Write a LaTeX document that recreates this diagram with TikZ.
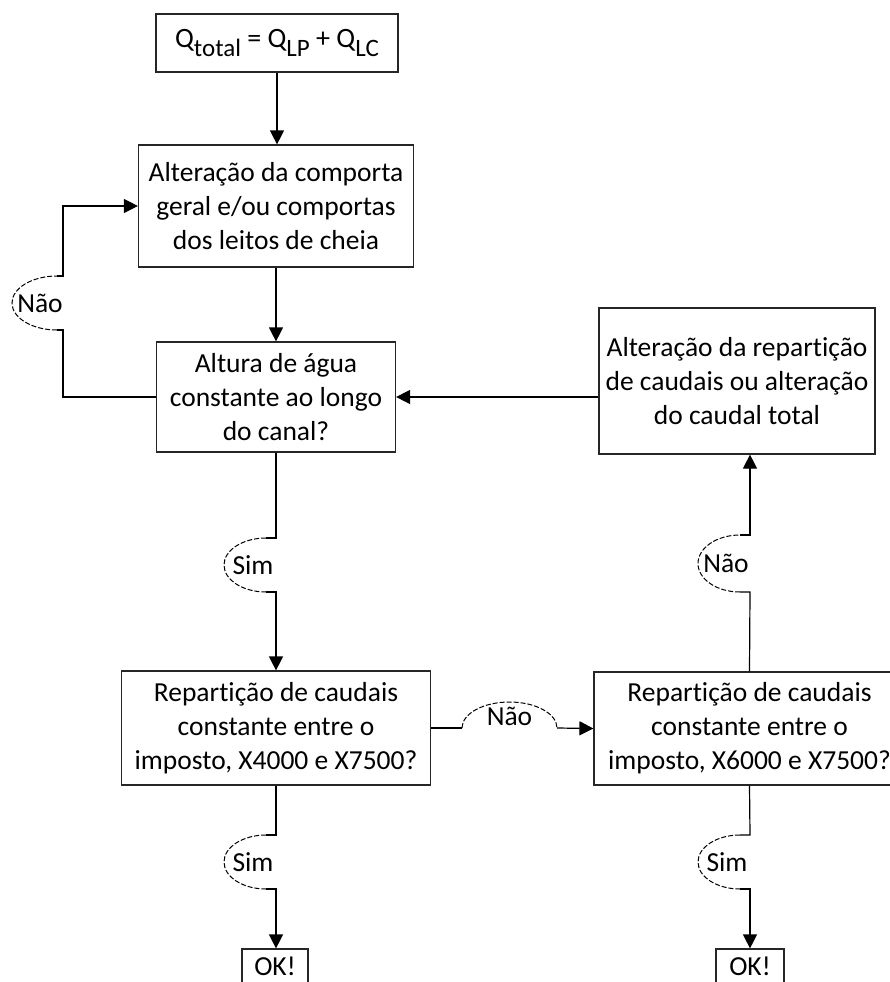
\documentclass[tikz,border=0pt]{standalone}
\usepackage{fontspec}
\setmainfont{Carlito}[Ligatures=NoCommon]
\usetikzlibrary{arrows.meta}
\tikzset{
    box/.style={draw=black!85, line width=1.2pt, align=center, inner sep=0pt,
            font=\fontsize{27.5}{34}\selectfont},
    wire/.style={line width=1.2pt},
    link/.style={line width=1.2pt, -{Triangle[length=14pt,width=14pt]}},
    bump/.style={line width=1pt, dash pattern=on 5pt off 2pt},
    tag/.style={inner sep=0pt, font=\fontsize{27.5}{27.5}\selectfont},
}
\newcommand{\qsub}[1]{\raisebox{-9pt}{\fontsize{25}{25}\selectfont #1}}

\begin{document}
\begin{tikzpicture}[x=1pt,y=-1pt]
        \clip (0,0) rectangle (890,982);
        %boxes of the left column
        \node[box, minimum width=242, minimum height=58, font=\fontsize{28}{34}\selectfont] (qtot) at (277,43)
            {Q\qsub{total} = Q\qsub{LP} + Q\qsub{LC}};
        \node[box, minimum width=275, minimum height=122] (comporta) at (276,206)
            {Alteração da comporta\\geral e/ou comportas\\dos leitos de cheia};
        \node[box, minimum width=239, minimum height=110] (altura) at (276,397)
            {Altura de água\\constante ao longo\\do canal?};
        \node[box, minimum width=309, minimum height=114] (rep1) at (276,728)
            {Repartição de caudais\\constante entre o\\imposto, X4000 e X7500?};
        \node[box, minimum width=66, minimum height=34] (ok1) at (275,966) {OK!};
        %boxes of the right column
        \node[box, minimum width=276, minimum height=146] (novaq) at (737,381)
            {Alteração da repartição\\de caudais ou alteração\\do caudal total};
        \node[box, minimum width=311, minimum height=113] (rep2) at (749.5,728.5)
            {Repartição de caudais\\constante entre o\\imposto, X6000 e X7500?};
        \node[box, minimum width=68, minimum height=34] (ok2) at (750,966) {OK!};
        %straight links
        \draw[link] (qtot.south) -- (qtot.south |- comporta.north);
        \draw[link] (comporta.south) -- (altura.north);
        \draw[link] (novaq.west |- altura.east) -- (altura.east);
        %Nao loop back to comporta
        \coordinate (n1t) at (63,276);
        \coordinate (n1b) at (63,330);
        \draw[wire] (altura.west) -| (n1b) -- ++(-6,0);
        \draw[bump] ([xshift=-6pt]n1b) arc[start angle=90, end angle=270, x radius=45, y radius=27];
        \draw[link] ([xshift=-6pt]n1t) -- (n1t) |- (comporta.west);
        \node[tag] (nao1) at (40,303) {Não};
        %Sim from altura to rep1
        \coordinate (s1t) at (276,538);
        \coordinate (s1b) at (276,592);
        \draw[wire] (altura.south) -- (s1t) -- ++(-10,0);
        \draw[bump] ([xshift=-10pt]s1t) arc[start angle=270, end angle=90, x radius=42, y radius=27];
        \draw[link] ([xshift=-10pt]s1b) -- (s1b) -- (rep1.north);
        \node[tag] (sim1) at (253,565) {Sim};
        %Nao from rep1 to rep2
        \coordinate (n2l) at (462,728);
        \coordinate (n2r) at (557,728);
        \draw[wire] (rep1.east) -- (n2l);
        \draw[bump] (n2l) arc[start angle=180, end angle=360, x radius=47.5, y radius=26];
        \draw[link] (n2r) -- (rep2.west);
        \node[tag] (nao2) at (509.5,716) {Não};
        %Nao from rep2 up to novaq
        \coordinate (n3t) at (750,535);
        \coordinate (n3b) at (750,592);
        \draw[wire] (rep2.north) -- (n3b) -- ++(-10,0);
        \draw[bump] ([xshift=-10pt]n3b) arc[start angle=90, end angle=270, x radius=42, y radius=28.5];
        \draw[link] ([xshift=-10pt]n3t) -- (n3t) -- (n3t |- novaq.south);
        \node[tag] (nao3) at (726,563) {Não};
        %Sim to the two OK boxes
        \coordinate (s2t) at (276,835);
        \coordinate (s2b) at (276,889);
        \draw[wire] (rep1.south) -- (s2t) -- ++(-10,0);
        \draw[bump] ([xshift=-10pt]s2t) arc[start angle=270, end angle=90, x radius=42, y radius=27];
        \draw[link] ([xshift=-10pt]s2b) -- (s2b) -- (s2b |- ok1.north);
        \node[tag] (sim2) at (253,862) {Sim};
        \coordinate (s3t) at (750,835);
        \coordinate (s3b) at (750,889);
        \draw[wire] (rep2.south) -- (s3t) -- ++(-10,0);
        \draw[bump] ([xshift=-10pt]s3t) arc[start angle=270, end angle=90, x radius=42, y radius=27];
        \draw[link] ([xshift=-10pt]s3b) -- (s3b) -- (s3b |- ok2.north);
        \node[tag] (sim3) at (727,862) {Sim};
    \end{tikzpicture}
\end{document}
